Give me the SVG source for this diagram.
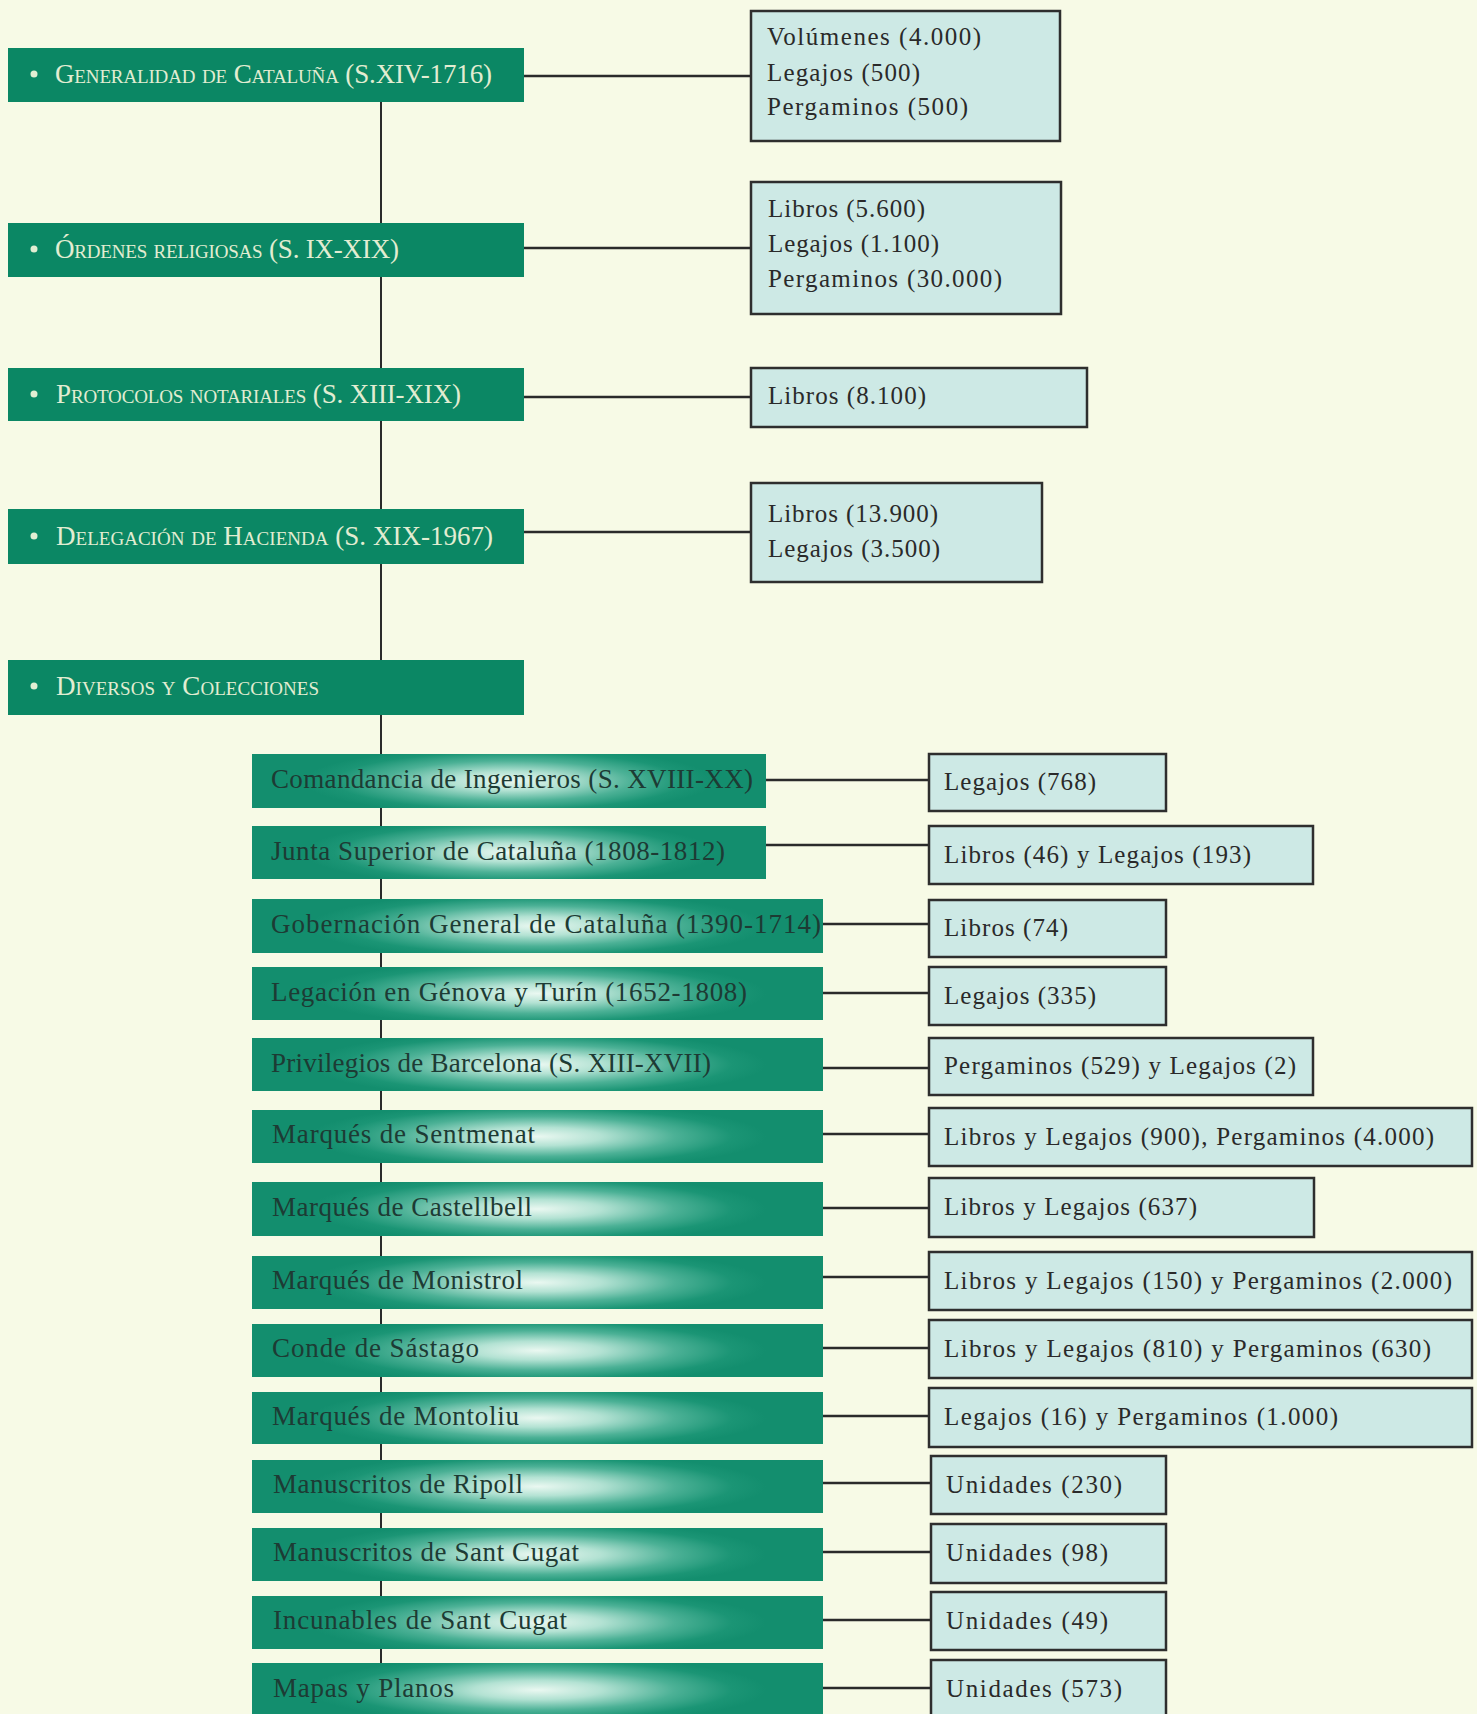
<svg xmlns="http://www.w3.org/2000/svg" width="1477" height="1714" viewBox="0 0 1477 1714">
<defs>
<radialGradient id="subg" cx="0.5" cy="0.5" r="0.5" gradientTransform="translate(0.5 0.5) scale(0.8 1.25) translate(-0.5 -0.5)">
<stop offset="0" stop-color="#eaf8f1"/>
<stop offset="0.28" stop-color="#b3e2d3"/>
<stop offset="0.6" stop-color="#4cb196"/>
<stop offset="0.85" stop-color="#1b9575"/>
<stop offset="1" stop-color="#138e6e"/>
</radialGradient>
<style>
.main{fill:#0b8764}
.mtxt{font-family:"Liberation Serif",serif;font-size:27px;font-variant:small-caps;fill:#e2edd2}
.bul{fill:#e2edd2}
.sub{fill:url(#subg)}
.stxt{font-family:"Liberation Serif",serif;font-size:27px;fill:#1d3b34}
.rb{fill:#cde9e5;stroke:#2e2e2e;stroke-width:2.5}
.rtxt{font-family:"Liberation Serif",serif;font-size:25px;fill:#2a2a2a}
.con{stroke:#2a2a2a;stroke-width:2.5;fill:none}
.trunk{stroke:#2a2a2a;stroke-width:2;fill:none}
</style>
</defs>
<rect width="1477" height="1714" fill="#f7fae6"/>
<g id="connectors">
<line class="trunk" x1="381" y1="102" x2="381" y2="1663"/>
<line class="con" x1="524" y1="76" x2="751" y2="76"/>
<line class="con" x1="524" y1="248" x2="751" y2="248"/>
<line class="con" x1="524" y1="397" x2="751" y2="397"/>
<line class="con" x1="524" y1="532" x2="751" y2="532"/>
<line class="con" x1="766" y1="780" x2="929" y2="780"/>
<line class="con" x1="766" y1="845" x2="929" y2="845"/>
<line class="con" x1="823" y1="924" x2="929" y2="924"/>
<line class="con" x1="823" y1="993" x2="929" y2="993"/>
<line class="con" x1="823" y1="1068" x2="929" y2="1068"/>
<line class="con" x1="823" y1="1134" x2="929" y2="1134"/>
<line class="con" x1="823" y1="1208" x2="929" y2="1208"/>
<line class="con" x1="823" y1="1277" x2="929" y2="1277"/>
<line class="con" x1="823" y1="1348" x2="929" y2="1348"/>
<line class="con" x1="823" y1="1416" x2="929" y2="1416"/>
<line class="con" x1="823" y1="1483" x2="931" y2="1483"/>
<line class="con" x1="823" y1="1552" x2="931" y2="1552"/>
<line class="con" x1="823" y1="1620" x2="931" y2="1620"/>
<line class="con" x1="823" y1="1688" x2="931" y2="1688"/>
</g>
<g id="main1"><rect class="main" x="8" y="48" width="516" height="54"/><circle class="bul" cx="34" cy="74" r="3.5"/><text class="mtxt" x="55" y="83" textLength="437">Generalidad de Cataluña (S.XIV-1716)</text></g>
<g id="main2"><rect class="main" x="8" y="223" width="516" height="54"/><circle class="bul" cx="34" cy="249" r="3.5"/><text class="mtxt" x="55" y="258" textLength="344">Órdenes religiosas (S. IX-XIX)</text></g>
<g id="main3"><rect class="main" x="8" y="368" width="516" height="53"/><circle class="bul" cx="34" cy="394" r="3.5"/><text class="mtxt" x="56" y="403" textLength="405">Protocolos notariales (S. XIII-XIX)</text></g>
<g id="main4"><rect class="main" x="8" y="509" width="516" height="55"/><circle class="bul" cx="34" cy="536" r="3.5"/><text class="mtxt" x="56" y="545" textLength="437">Delegación de Hacienda (S. XIX-1967)</text></g>
<g id="main5"><rect class="main" x="8" y="660" width="516" height="55"/><circle class="bul" cx="34" cy="686" r="3.5"/><text class="mtxt" x="56" y="695" textLength="263">Diversos y Colecciones</text></g>
<g id="info1"><rect class="rb" x="751" y="11" width="309" height="130"/><text class="rtxt" x="767" y="45" textLength="214">Volúmenes (4.000)</text><text class="rtxt" x="767" y="81" textLength="153">Legajos (500)</text><text class="rtxt" x="767" y="115" textLength="201">Pergaminos (500)</text></g>
<g id="info2"><rect class="rb" x="751" y="182" width="310" height="132"/><text class="rtxt" x="768" y="217" textLength="157">Libros (5.600)</text><text class="rtxt" x="768" y="252" textLength="171">Legajos (1.100)</text><text class="rtxt" x="768" y="287" textLength="234">Pergaminos (30.000)</text></g>
<g id="info3"><rect class="rb" x="751" y="368" width="336" height="59"/><text class="rtxt" x="768" y="404" textLength="158">Libros (8.100)</text></g>
<g id="info4"><rect class="rb" x="751" y="483" width="291" height="99"/><text class="rtxt" x="768" y="522" textLength="170">Libros (13.900)</text><text class="rtxt" x="768" y="557" textLength="172">Legajos (3.500)</text></g>
<g id="sub1"><rect class="sub" x="252" y="754" width="514" height="54"/><text class="stxt" x="271" y="788" textLength="482">Comandancia de Ingenieros (S. XVIII-XX)</text></g>
<g id="sub2"><rect class="sub" x="252" y="826" width="514" height="53"/><text class="stxt" x="271" y="860" textLength="454">Junta Superior de Cataluña (1808-1812)</text></g>
<g id="sub3"><rect class="sub" x="252" y="899" width="571" height="54"/><text class="stxt" x="271" y="933" textLength="550">Gobernación General de Cataluña (1390-1714)</text></g>
<g id="sub4"><rect class="sub" x="252" y="967" width="571" height="53"/><text class="stxt" x="271" y="1001" textLength="476">Legación en Génova y Turín (1652-1808)</text></g>
<g id="sub5"><rect class="sub" x="252" y="1038" width="571" height="53"/><text class="stxt" x="271" y="1072" textLength="440">Privilegios de Barcelona (S. XIII-XVII)</text></g>
<g id="sub6"><rect class="sub" x="252" y="1110" width="571" height="53"/><text class="stxt" x="272" y="1143" textLength="263">Marqués de Sentmenat</text></g>
<g id="sub7"><rect class="sub" x="252" y="1182" width="571" height="54"/><text class="stxt" x="272" y="1216" textLength="260">Marqués de Castellbell</text></g>
<g id="sub8"><rect class="sub" x="252" y="1256" width="571" height="53"/><text class="stxt" x="272" y="1289" textLength="251">Marqués de Monistrol</text></g>
<g id="sub9"><rect class="sub" x="252" y="1324" width="571" height="53"/><text class="stxt" x="272" y="1357" textLength="207">Conde de Sástago</text></g>
<g id="sub10"><rect class="sub" x="252" y="1392" width="571" height="52"/><text class="stxt" x="272" y="1425" textLength="247">Marqués de Montoliu</text></g>
<g id="sub11"><rect class="sub" x="252" y="1460" width="571" height="53"/><text class="stxt" x="273" y="1493" textLength="250">Manuscritos de Ripoll</text></g>
<g id="sub12"><rect class="sub" x="252" y="1528" width="571" height="53"/><text class="stxt" x="273" y="1561" textLength="306">Manuscritos de Sant Cugat</text></g>
<g id="sub13"><rect class="sub" x="252" y="1596" width="571" height="53"/><text class="stxt" x="273" y="1629" textLength="294">Incunables de Sant Cugat</text></g>
<g id="sub14"><rect class="sub" x="252" y="1663" width="571" height="54"/><text class="stxt" x="273" y="1697" textLength="181">Mapas y Planos</text></g>
<g id="det1"><rect class="rb" x="929" y="754" width="237" height="57"/><text class="rtxt" x="944" y="790" textLength="152">Legajos (768)</text></g>
<g id="det2"><rect class="rb" x="929" y="826" width="384" height="58"/><text class="rtxt" x="944" y="863" textLength="307">Libros (46) y Legajos (193)</text></g>
<g id="det3"><rect class="rb" x="929" y="900" width="237" height="57"/><text class="rtxt" x="944" y="936" textLength="124">Libros (74)</text></g>
<g id="det4"><rect class="rb" x="929" y="967" width="237" height="58"/><text class="rtxt" x="944" y="1004" textLength="152">Legajos (335)</text></g>
<g id="det5"><rect class="rb" x="929" y="1038" width="384" height="57"/><text class="rtxt" x="944" y="1074" textLength="352">Pergaminos (529) y Legajos (2)</text></g>
<g id="det6"><rect class="rb" x="929" y="1108" width="543" height="58"/><text class="rtxt" x="944" y="1145" textLength="490">Libros y Legajos (900), Pergaminos (4.000)</text></g>
<g id="det7"><rect class="rb" x="929" y="1178" width="385" height="59"/><text class="rtxt" x="944" y="1215" textLength="253">Libros y Legajos (637)</text></g>
<g id="det8"><rect class="rb" x="929" y="1252" width="543" height="58"/><text class="rtxt" x="944" y="1289" textLength="508">Libros y Legajos (150) y Pergaminos (2.000)</text></g>
<g id="det9"><rect class="rb" x="929" y="1320" width="543" height="58"/><text class="rtxt" x="944" y="1357" textLength="487">Libros y Legajos (810) y Pergaminos (630)</text></g>
<g id="det10"><rect class="rb" x="929" y="1388" width="543" height="59"/><text class="rtxt" x="944" y="1425" textLength="394">Legajos (16) y Pergaminos (1.000)</text></g>
<g id="det11"><rect class="rb" x="931" y="1456" width="235" height="58"/><text class="rtxt" x="946" y="1493" textLength="176">Unidades (230)</text></g>
<g id="det12"><rect class="rb" x="931" y="1524" width="235" height="59"/><text class="rtxt" x="946" y="1561" textLength="162">Unidades (98)</text></g>
<g id="det13"><rect class="rb" x="931" y="1592" width="235" height="58"/><text class="rtxt" x="946" y="1629" textLength="162">Unidades (49)</text></g>
<g id="det14"><rect class="rb" x="931" y="1660" width="235" height="60"/><text class="rtxt" x="946" y="1697" textLength="176">Unidades (573)</text></g>
</svg>
